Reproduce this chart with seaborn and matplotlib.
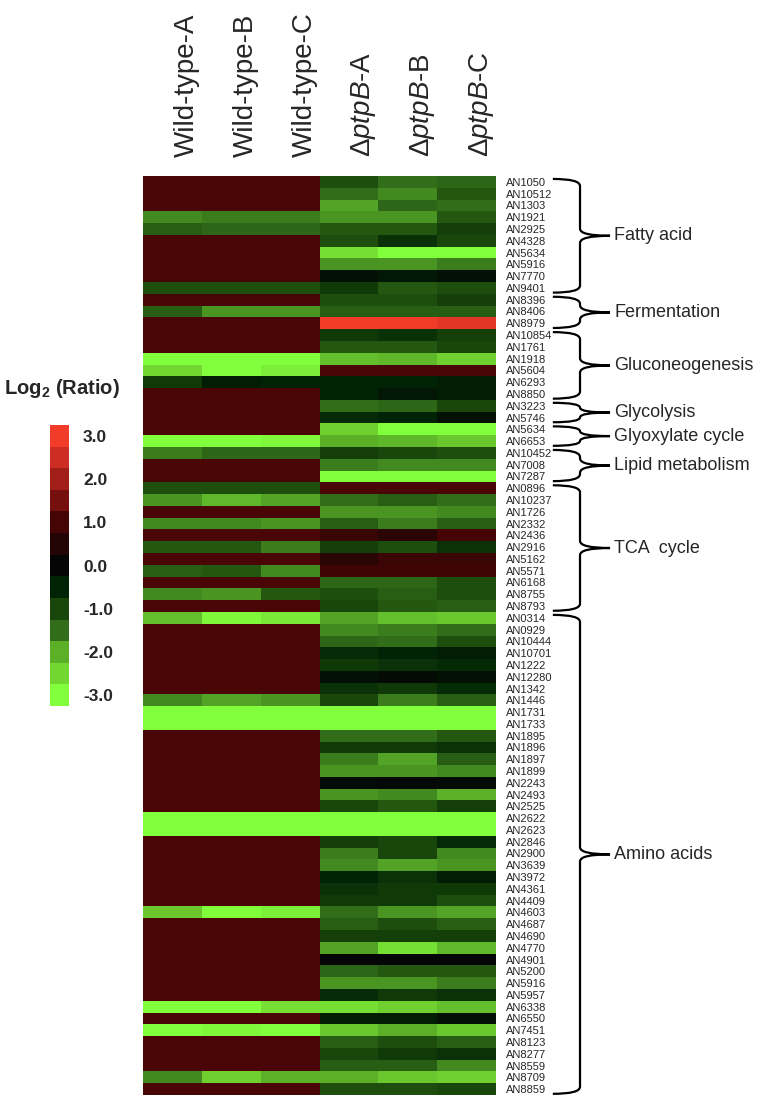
import matplotlib
matplotlib.use("Agg")
import matplotlib.pyplot as plt
import matplotlib.transforms as mtransforms
from matplotlib.colors import LinearSegmentedColormap
from matplotlib.path import Path
from matplotlib.patches import PathPatch
import seaborn as sns
import pandas as pd
import numpy as np

# ---- data (log2 ratio) ----
genes = ['AN1050', 'AN10512', 'AN1303', 'AN1921', 'AN2925', 'AN4328', 'AN5634', 'AN5916', 'AN7770', 'AN9401',
         'AN8396', 'AN8406', 'AN8979', 'AN10854', 'AN1761', 'AN1918', 'AN5604', 'AN6293', 'AN8850', 'AN3223',
         'AN5746', 'AN5634', 'AN6653', 'AN10452', 'AN7008', 'AN7287', 'AN0896', 'AN10237', 'AN1726', 'AN2332',
         'AN2436', 'AN2916', 'AN5162', 'AN5571', 'AN6168', 'AN8755', 'AN8793', 'AN0314', 'AN0929', 'AN10444',
         'AN10701', 'AN1222', 'AN12280', 'AN1342', 'AN1446', 'AN1731', 'AN1733', 'AN1895', 'AN1896', 'AN1897',
         'AN1899', 'AN2243', 'AN2493', 'AN2525', 'AN2622', 'AN2623', 'AN2846', 'AN2900', 'AN3639', 'AN3972',
         'AN4361', 'AN4409', 'AN4603', 'AN4687', 'AN4690', 'AN4770', 'AN4901', 'AN5200', 'AN5916', 'AN5957',
         'AN6338', 'AN6550', 'AN7451', 'AN8123', 'AN8277', 'AN8559', 'AN8709', 'AN8859']

samples = ['Wild-type-A', 'Wild-type-B', 'Wild-type-C', 'ptpB-A', 'ptpB-B', 'ptpB-C']

wt_a = [1.05, 1.05, 1.05, -1.7, -1.3, 1.05, 1.05, 1.05, 1.05, -1.1,
        1.05, -1.3, 1.05, 1.05, 1.05, -3.0, -2.5, -0.8, 1.05, 1.05,
        1.05, 1.05, -3.0, -1.6, 1.05, 1.05, -1.1, -1.8, 1.05, -1.7,
        1.05, -1.2, 1.05, -1.3, 1.05, -1.7, 1.05, -2.2, 1.05, 1.05,
        1.05, 1.05, 1.05, 1.05, -1.7, -3.0, -3.0, 1.05, 1.05, 1.05,
        1.05, 1.05, 1.05, 1.05, -3.0, -3.0, 1.05, 1.05, 1.05, 1.05,
        1.05, 1.05, -2.3, 1.05, 1.05, 1.05, 1.05, 1.05, 1.05, 1.05,
        -3.0, 1.05, -3.0, 1.05, 1.05, 1.05, -1.7, 1.05]
wt_b = [1.05, 1.05, 1.05, -1.6, -1.4, 1.05, 1.05, 1.05, 1.05, -1.1,
        1.05, -1.8, 1.05, 1.05, 1.05, -3.0, -3.0, -0.4, 1.05, 1.05,
        1.05, 1.05, -3.0, -1.4, 1.05, 1.05, -1.1, -2.1, 1.05, -1.7,
        1.05, -1.2, 1.05, -1.2, 1.05, -1.8, 1.05, -2.9, 1.05, 1.05,
        1.05, 1.05, 1.05, 1.05, -1.9, -3.0, -3.0, 1.05, 1.05, 1.05,
        1.05, 1.05, 1.05, 1.05, -3.0, -3.0, 1.05, 1.05, 1.05, 1.05,
        1.05, 1.05, -3.0, 1.05, 1.05, 1.05, 1.05, 1.05, 1.05, 1.05,
        -3.0, 1.05, -2.9, 1.05, 1.05, 1.05, -2.4, 1.05]
wt_c = [1.05, 1.05, 1.05, -1.6, -1.4, 1.05, 1.05, 1.05, 1.05, -1.1,
        1.05, -1.8, 1.05, 1.05, 1.05, -3.0, -2.8, -0.5, 1.05, 1.05,
        1.05, 1.05, -2.9, -1.4, 1.05, 1.05, -1.1, -1.9, 1.05, -1.8,
        1.05, -1.6, 1.05, -1.7, 1.05, -1.2, 1.05, -2.7, 1.05, 1.05,
        1.05, 1.05, 1.05, 1.05, -1.8, -3.0, -3.0, 1.05, 1.05, 1.05,
        1.05, 1.05, 1.05, 1.05, -3.0, -3.0, 1.05, 1.05, 1.05, 1.05,
        1.05, 1.05, -2.8, 1.05, 1.05, 1.05, 1.05, 1.05, 1.05, 1.05,
        -2.6, 1.05, -3.0, 1.05, 1.05, 1.05, -2.0, 1.05]
ptp_a = [-1.1, -1.5, -1.9, -1.8, -1.2, -1.1, -2.6, -1.8, -0.2, -0.8,
         -1.1, -1.3, 3.0, -0.8, -1.2, -2.2, 1.05, -0.5, -0.5, -1.5,
         -0.6, -2.4, -2.0, -0.9, -1.6, -3.0, 1.05, -1.5, -1.8, -1.3,
         0.8, -0.9, 0.6, 0.9, -1.4, -1.1, -1.0, -1.9, -1.7, -1.4,
         -0.6, -0.8, -0.2, -0.7, -1.0, -3.0, -3.0, -1.5, -0.8, -1.6,
         -1.8, -0.1, -1.8, -1.0, -3.0, -3.0, -0.9, -1.6, -1.7, -0.5,
         -0.7, -0.8, -1.5, -1.3, -0.9, -1.9, 0.0, -1.4, -1.8, -0.6,
         -2.6, -0.4, -2.3, -1.3, -1.0, -1.3, -2.0, -1.1]
ptp_b = [-1.5, -1.7, -1.4, -1.8, -1.2, -0.7, -3.0, -1.8, -0.3, -1.2,
         -1.1, -1.3, 3.0, -0.7, -1.2, -2.1, 1.05, -0.5, -0.3, -1.4,
         -0.5, -3.0, -2.1, -1.0, -1.7, -3.0, 1.05, -1.3, -1.8, -1.6,
         0.6, -1.1, 0.8, 0.9, -1.4, -1.3, -1.2, -2.2, -1.6, -1.5,
         -0.5, -0.7, -0.1, -0.8, -1.6, -3.0, -3.0, -1.5, -0.8, -1.9,
         -1.8, -0.05, -1.7, -1.2, -3.0, -3.0, -1.0, -1.0, -1.9, -0.7,
         -0.8, -0.8, -1.8, -1.1, -0.9, -2.6, 0.0, -1.2, -1.8, -0.8,
         -2.4, -0.4, -2.0, -1.1, -0.8, -1.3, -2.3, -1.1]
ptp_c = [-1.4, -1.2, -1.5, -1.2, -0.9, -1.0, -3.0, -1.6, -0.2, -1.1,
         -0.9, -1.3, 2.8, -0.9, -1.0, -2.4, 1.05, -0.4, -0.4, -1.0,
         -0.2, -3.0, -2.3, -1.1, -1.7, -3.0, 1.05, -1.5, -1.7, -1.3,
         1.0, -0.7, 0.8, 0.9, -1.1, -1.1, -1.3, -2.3, -1.5, -1.1,
         -0.4, -0.6, -0.2, -0.6, -1.3, -3.0, -3.0, -1.2, -0.7, -1.3,
         -1.7, -0.1, -2.0, -0.9, -3.0, -3.0, -0.6, -1.7, -1.8, -0.4,
         -0.8, -1.1, -1.9, -1.3, -0.9, -2.1, 0.0, -1.2, -1.6, -0.7,
         -2.2, -0.2, -2.3, -1.3, -0.7, -1.7, -2.4, -1.0]

# functional groups (consecutive rows)
group_names = ['Fatty acid', 'Fermentation', 'Gluconeogenesis', 'Glycolysis',
               'Glyoxylate cycle', 'Lipid metabolism', 'TCA  cycle', 'Amino acids']
group_sizes = [10, 3, 6, 2, 2, 3, 11, 41]

cbar_levels = [3.0, 2.5, 2.0, 1.5, 1.0, 0.5, 0.0, -0.5, -1.0, -1.5, -2.0, -2.5, -3.0]
cbar_ticks = [3.0, 2.0, 1.0, 0.0, -1.0, -2.0, -3.0]

df = pd.DataFrame({'Wild-type-A': wt_a, 'Wild-type-B': wt_b, 'Wild-type-C': wt_c,
                   'ptpB-A': ptp_a, 'ptpB-B': ptp_b, 'ptpB-C': ptp_c}, index=genes)

# ---- style ----
sns.set_style("white")
plt.rcParams['font.family'] = ['Liberation Sans', 'DejaVu Sans']
plt.rcParams['mathtext.fontset'] = 'custom'
plt.rcParams['mathtext.rm'] = 'Liberation Sans'
plt.rcParams['mathtext.it'] = 'Liberation Sans:italic'
plt.rcParams['mathtext.bf'] = 'Liberation Sans:bold'

# green - black - red scale, stepped like the original key
node_vals = [-3, -2.5, -2, -1.5, -1, -0.5, 0, 0.5, 1, 1.5, 2, 2.5, 3]
node_cols = ['#82FF3C', '#73D732', '#5AAF28', '#326E19', '#19460A', '#002305', '#050505',
             '#230505', '#460505', '#730F0F', '#A01E19', '#CD2D23', '#F03C28']
cmap = LinearSegmentedColormap.from_list(
    'gbr', [((v + 3) / 6, c) for v, c in zip(node_vals, node_cols)])

W, H = 762, 1106
fig = plt.figure(figsize=(W / 100, H / 100), dpi=100)

# main heatmap
ax = fig.add_axes([143 / W, 1 - 1095 / H, 353 / W, 919 / H])
sns.heatmap(df, cmap=cmap, vmin=-3, vmax=3, cbar=False, ax=ax,
            xticklabels=False, yticklabels=genes)
ax.yaxis.tick_right()
ax.tick_params(axis='y', length=0, pad=7, labelsize=8, labelrotation=0)
ax.set_xlabel('')
ax.set_ylabel('')

# column labels on top
top = mtransforms.blended_transform_factory(ax.transData, ax.transAxes)
for i, s in enumerate(samples):
    if s.startswith('ptpB'):
        lab = 'Δ$\\mathit{ptpB}$' + s[4:]
    else:
        lab = s
    ax.text(i + 0.75, 1.021, lab, rotation=90, ha='center', va='bottom',
            fontsize=20, transform=top)

# braces + group names
side = mtransforms.blended_transform_factory(ax.transAxes, ax.transData)


def brace(y0, y1, xa=1.161, xs=1.238, xt=1.323):
    r = min(0.6, (y1 - y0) / 4)
    ym = (y0 + y1) / 2
    verts = [(xa, y0), (xs, y0), (xs, y0 + r), (xs, ym - r), (xs, ym), (xt, ym),
             (xs, ym), (xs, ym + r), (xs, y1 - r), (xs, y1), (xa, y1)]
    codes = [Path.MOVETO, Path.CURVE3, Path.CURVE3, Path.LINETO, Path.CURVE3, Path.CURVE3,
             Path.CURVE3, Path.CURVE3, Path.LINETO, Path.CURVE3, Path.CURVE3]
    ax.add_patch(PathPatch(Path(verts, codes), fill=False, lw=1.6, color='black',
                           transform=side, clip_on=False))
    return ym


start = 0
for name, n in zip(group_names, group_sizes):
    ym = brace(start + 0.25, start + n - 0.1)
    ax.text(1.335, ym, name, fontsize=13, ha='left', va='center', transform=side)
    start += n

# colour key
cax = fig.add_axes([50 / W, 1 - 706 / H, 19 / W, 281 / H])
sns.heatmap(np.array(cbar_levels).reshape(-1, 1), cmap=cmap, vmin=-3, vmax=3,
            cbar=False, ax=cax, xticklabels=False)
cax.set_yticks([cbar_levels.index(t) + 0.5 for t in cbar_ticks])
cax.set_yticklabels([f'{t:.1f}' for t in cbar_ticks], fontweight='bold', fontsize=12.5)
cax.yaxis.tick_right()
cax.tick_params(axis='y', length=0, pad=10, labelrotation=0)

fig.text(4 / W, 1 - 388 / H, 'Log$_\\mathbf{2}$ (Ratio)', fontsize=14.5,
         fontweight='bold', ha='left', va='center')

fig.savefig('out.png', dpi=100)
